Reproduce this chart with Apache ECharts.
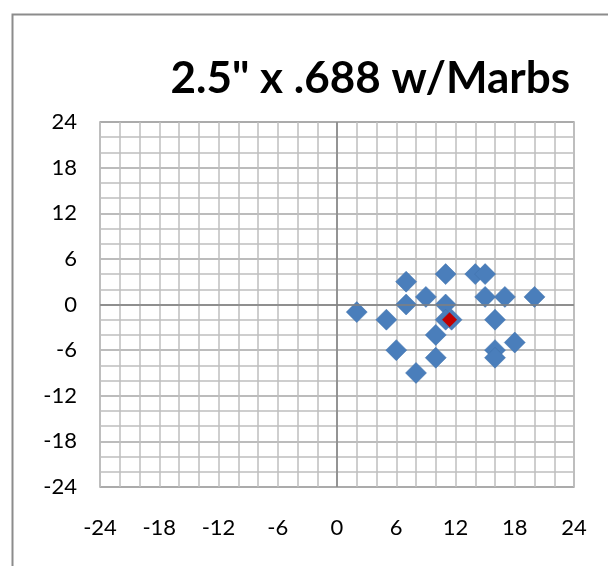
<!DOCTYPE html>
<html>
<head>
<meta charset="utf-8">
<script src="https://cdn.jsdelivr.net/npm/echarts@6/dist/echarts.min.js"></script>
<style>
html,body{margin:0;padding:0;background:#fff;}
#c{width:608px;height:566px;}
</style>
</head>
<body>
<div id="c"></div>
<script>
// Data
var titleText = '2.5" x .688 w/Marbs';
var shotX = [2, 5, 7, 7, 9, 11, 11, 11, 11.6, 10, 6, 10, 8, 14, 15, 15, 17, 20, 16, 18, 16, 16];
var shotY = [-1, -2, 3, 0, 1, 4, 0, -2, -2, -4, -6, -7, -9, 4, 4, 1, 1, 1, -2, -5, -6, -7];
var centerX = [11.4];
var centerY = [-2];
var axisMin = -24, axisMax = 24, labelStep = 6, gridStep = 2;

var shots = shotX.map(function (x, i) { return [x, shotY[i]]; });
var center = centerX.map(function (x, i) { return [x, centerY[i]]; });

var font = 'Lato, "Open Sans", sans-serif';
var chart = echarts.init(document.getElementById('c'));

function axisDef() {
  return {
    type: 'value', min: axisMin, max: axisMax, interval: labelStep,
    axisLine: { show: false }, axisTick: { show: false },
    minorTick: { show: false, splitNumber: labelStep / gridStep },
    splitLine: { show: true, lineStyle: { color: '#a6a6a6', width: 1.5 } },
    minorSplitLine: { show: true, lineStyle: { color: '#bfbfbf', width: 1.5 } },
    axisLabel: { color: '#000', fontFamily: font, fontSize: 22 }
  };
}
var xa = axisDef(); xa.axisLabel.margin = 30; xa.position = 'bottom';
xa.splitLine.lineStyle.color = '#bfbfbf';
var ya = axisDef(); ya.axisLabel.margin = 23; ya.position = 'left';

chart.setOption({
  animation: false,
  backgroundColor: '#fff',
  title: {
    text: titleText, right: 33, top: 52,
    textStyle: { fontFamily: font, fontWeight: 'bold', fontSize: 44, color: '#000' }
  },
  grid: { left: 100, right: 34, top: 122, bottom: 79, containLabel: false, show: true, borderColor: '#a6a6a6', borderWidth: 1.5 },
  xAxis: xa,
  yAxis: ya,
  graphic: [{
    type: 'rect', left: 10, top: 12, shape: { width: 610, height: 570 },
    style: { fill: 'none', stroke: '#8c8c8c', lineWidth: 2 }, silent: true, z: -1
  }],
  series: [{
    type: 'scatter', data: shots, symbol: 'diamond', symbolSize: 21,
    itemStyle: { color: '#4a7ebb', borderColor: '#3f70aa', borderWidth: 0.5, opacity: 1 },
    markLine: {
      silent: true, symbol: 'none', label: { show: false },
      lineStyle: { color: '#808080', width: 1.5, type: 'solid' },
      data: [{ xAxis: 0 }, { yAxis: 0 }]
    },
    z: 3
  }, {
    type: 'scatter', data: center, symbol: 'diamond', symbolSize: 15,
    itemStyle: { color: '#c00000', opacity: 1 }, z: 4
  }]
});
</script>
</body>
</html>
